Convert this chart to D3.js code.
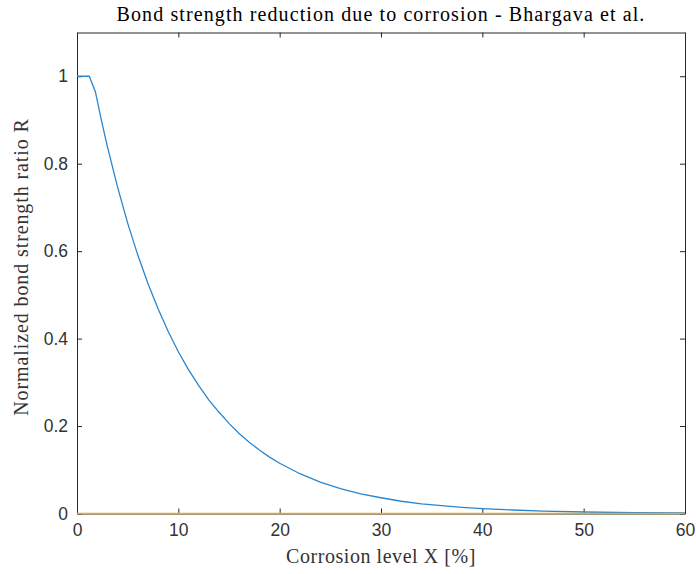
<!DOCTYPE html>
<html>
<head>
<meta charset="utf-8">
<script src="https://cdn.jsdelivr.net/npm/d3@7"></script>
<style>
  html, body { margin: 0; padding: 0; background: #ffffff; }
  svg { display: block; }
</style>
</head>
<body>
<svg id="chart" width="696" height="574"></svg>
<script>
// Corrosion level X [%] and normalized bond strength ratio R
const corrosionX = [0, 0.61, 1.21, 1.82, 2.42, 3, 4, 5, 6, 7, 8, 9, 10, 11, 12, 13, 14, 15,
  16, 17, 18, 19, 20, 22, 24, 26, 28, 30, 32, 34, 36, 38, 40, 43, 46, 50, 55, 60];
const bondRatio = [1, 1, 1, 0.964, 0.898, 0.839, 0.747, 0.664, 0.591, 0.526, 0.468, 0.416,
  0.370, 0.329, 0.293, 0.260, 0.232, 0.206, 0.183, 0.163, 0.145, 0.129, 0.115, 0.091,
  0.072, 0.057, 0.045, 0.036, 0.028, 0.022, 0.018, 0.014, 0.011, 0.008, 0.0055, 0.0034,
  0.0019, 0.0011];

// Second series: baseline at zero across the range
const baselineX = [0, 60];
const baselineR = [0, 0];

const xTicks = [0, 10, 20, 30, 40, 50, 60];
const yTicks = [0, 0.2, 0.4, 0.6, 0.8, 1];

const titleText = "Bond strength reduction due to corrosion - Bhargava et al.";
const xLabel = "Corrosion level X [%]";
const yLabel = "Normalized bond strength ratio R";

const margin = { left: 77, right: 11, top: 32.5, bottom: 60.5 };
const W = 696, H = 574;
const svg = d3.select("#chart");

const x = d3.scaleLinear().domain([0, 60]).range([margin.left, W - margin.right]);
const y = d3.scaleLinear().domain([0, 1.1]).range([H - margin.bottom, margin.top]);

const axisColor = "#262626";
const tickFont = "Liberation Sans, Arial, sans-serif";
const serif = "Liberation Serif, Times New Roman, serif";

// Axes: bottom/left with labels, top/right mirrored ticks only (ticks point inward)
const tickLen = 5;
function styleAxis(g) {
  g.select(".domain").attr("stroke", axisColor).attr("stroke-width", 1);
  g.selectAll(".tick line").attr("stroke", axisColor).attr("stroke-width", 1);
  g.selectAll(".tick text").attr("fill", "#333333")
    .style("font-family", tickFont).style("font-size", "17.5px");
}

svg.append("g")
  .attr("transform", `translate(0,${y(0)})`)
  .call(d3.axisBottom(x).tickValues(xTicks).tickSizeInner(-tickLen).tickSizeOuter(0)
    .tickPadding(10).tickFormat(d3.format("d")))
  .call(styleAxis);

svg.append("g")
  .attr("transform", `translate(0,${y(1.1)})`)
  .call(d3.axisTop(x).tickValues(xTicks).tickSizeInner(-tickLen).tickSizeOuter(0)
    .tickFormat(""))
  .call(styleAxis);

svg.append("g")
  .attr("transform", `translate(${x(0)},0)`)
  .call(d3.axisLeft(y).tickValues(yTicks).tickSizeInner(-tickLen).tickSizeOuter(0)
    .tickPadding(9).tickFormat(d => d === 0 || d === 1 ? d3.format("d")(d) : d3.format(".1f")(d)))
  .call(styleAxis);

svg.append("g")
  .attr("transform", `translate(${x(60)},0)`)
  .call(d3.axisRight(y).tickValues(yTicks).tickSizeInner(-tickLen).tickSizeOuter(0)
    .tickFormat(""))
  .call(styleAxis);

// Data lines, drawn over the axes
const line = d3.line().x(d => x(d[0])).y(d => y(d[1]));
svg.append("path")
  .datum(corrosionX.map((v, i) => [v, bondRatio[i]]))
  .attr("d", line)
  .attr("fill", "none")
  .attr("stroke", "#2a86cf")
  .attr("stroke-width", 1.3);

svg.append("path")
  .datum(baselineX.map((v, i) => [v, baselineR[i]]))
  .attr("d", line)
  .attr("fill", "none")
  .attr("stroke", "#e3a73a")
  .attr("stroke-width", 1.5);

// Title and axis labels
svg.append("text")
  .attr("x", 381).attr("y", 21)
  .attr("text-anchor", "middle")
  .style("font-family", serif).style("font-size", "20px")
  .style("letter-spacing", "1.1px")
  .attr("fill", "#000")
  .text(titleText);

svg.append("text")
  .attr("x", 381).attr("y", 563)
  .attr("text-anchor", "middle")
  .style("font-family", serif).style("font-size", "20px")
  .style("letter-spacing", "0.55px")
  .attr("fill", "#333333")
  .text(xLabel);

svg.append("text")
  .attr("transform", `translate(28,267) rotate(-90)`)
  .attr("text-anchor", "middle")
  .style("font-family", serif).style("font-size", "20px")
  .style("letter-spacing", "0.9px")
  .attr("fill", "#333333")
  .text(yLabel);
</script>
</body>
</html>
